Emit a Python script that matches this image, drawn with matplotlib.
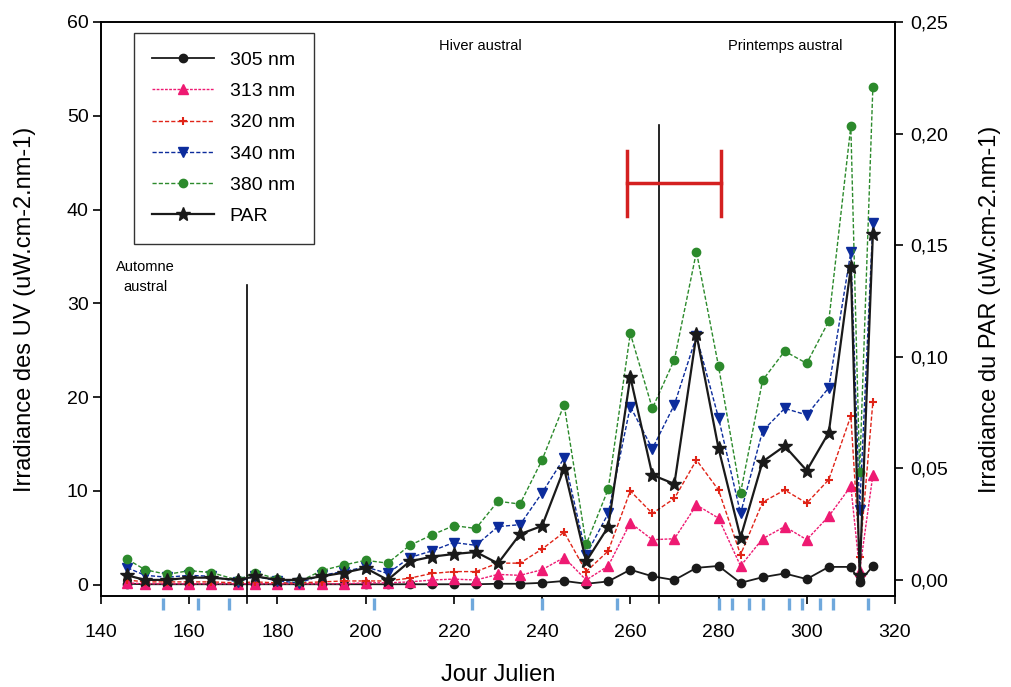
import matplotlib
matplotlib.use("Agg")
import matplotlib.pyplot as plt
from matplotlib.ticker import FuncFormatter, MultipleLocator

# ---------------- data ----------------
days = [146, 150, 155, 160, 165, 171, 175, 180, 185, 190, 195, 200, 205, 210, 215,
        220, 225, 230, 235, 240, 245, 250, 255, 260, 265, 270, 275, 280, 285, 290,
        295, 300, 305, 310, 312, 315]

uv305 = [0.1, 0.05, 0.05, 0.05, 0.05, 0.05, 0.05, 0.05, 0.05, 0.05, 0.05, 0.05, 0.05, 0.05, 0.05,
         0.05, 0.05, 0.1, 0.1, 0.2, 0.4, 0.1, 0.35, 1.6, 0.9, 0.5, 1.8, 2.0, 0.2, 0.8,
         1.2, 0.6, 1.9, 1.9, 0.3, 2.0]
uv313 = [0.2, 0.1, 0.1, 0.1, 0.1, 0.1, 0.1, 0.1, 0.1, 0.1, 0.1, 0.2, 0.2, 0.3, 0.5,
         0.6, 0.5, 1.1, 1.0, 1.6, 2.9, 0.5, 2.0, 6.6, 4.8, 4.9, 8.5, 7.1, 2.0, 4.9,
         6.2, 4.8, 7.3, 10.5, 1.5, 11.7]
uv320 = [0.5, 0.3, 0.3, 0.3, 0.3, 0.2, 0.3, 0.2, 0.2, 0.3, 0.4, 0.4, 0.4, 0.7, 1.2,
         1.4, 1.4, 2.3, 2.3, 3.8, 5.6, 1.4, 3.6, 10.0, 7.6, 9.2, 13.3, 10.1, 3.2, 8.8,
         10.1, 8.7, 11.2, 18.0, 3.0, 19.5]
uv340 = [1.8, 1.0, 0.8, 1.0, 0.9, 0.3, 0.9, 0.4, 0.2, 1.0, 1.4, 1.9, 1.2, 2.9, 3.6,
         4.5, 4.2, 6.2, 6.4, 9.8, 13.5, 3.2, 7.6, 19.0, 14.5, 19.2, 26.5, 17.8, 7.6, 16.4,
         18.8, 18.1, 21.0, 35.5, 8.0, 38.6]
uv380 = [2.7, 1.6, 1.1, 1.5, 1.3, 0.5, 1.3, 0.6, 0.35, 1.5, 2.1, 2.6, 2.3, 4.2, 5.3,
         6.3, 6.0, 8.9, 8.6, 13.3, 19.2, 4.3, 10.2, 26.8, 18.8, 24.0, 35.5, 23.3, 9.8, 21.8,
         24.9, 23.6, 28.1, 48.9, 12.0, 53.1]
par = [0.002, 0.000, 0.000, 0.001, 0.001, 0.000, 0.0016, 0.000, 0.000, 0.0016, 0.0032, 0.0053, 0.000, 0.0083, 0.0104,
       0.0116, 0.0125, 0.0074, 0.0205, 0.0242, 0.0499, 0.0083, 0.0238, 0.091, 0.047, 0.043, 0.110, 0.059, 0.019, 0.053,
       0.060, 0.049, 0.066, 0.140, 0.002, 0.155]

sampling_days = [154, 162, 169, 202, 224, 240, 257, 280, 283, 287, 290, 296, 299, 303, 306, 314]
season_limits = [173, 266.6]
period_bar = [259.3, 280.5]

FONT = ['Liberation Sans Narrow', 'Liberation Sans', 'DejaVu Sans']
plt.rcParams['font.family'] = FONT

fig = plt.figure(figsize=(10.11, 6.87), dpi=100)
ax = fig.add_axes([0.0999, 0.1325, 0.7853, 0.8355])
ax2 = ax.twinx()

c_black = '#1a1a1a'
c_pink = '#ee1a72'
c_red = '#e02418'
c_blue = '#0c2c9c'
c_green = '#2c8a2c'

ax.plot(days, uv305, color=c_black, lw=1.3, ls='-', marker='o', ms=6, label='305 nm')
ax.plot(days, uv313, color=c_pink, lw=1.0, ls=(0, (2, 1)), marker='^', ms=7, label='313 nm')
ax.plot(days, uv320, color=c_red, lw=1.0, ls=(0, (3, 1.5)), marker='+', ms=6, mew=1.5, label='320 nm')
ax.plot(days, uv340, color=c_blue, lw=1.0, ls=(0, (3, 1.5)), marker='v', ms=7, label='340 nm')
ax.plot(days, uv380, color=c_green, lw=1.0, ls=(0, (3, 1.5)), marker='o', ms=6, label='380 nm')
hpar, = ax2.plot(days, par, color=c_black, lw=1.6, ls='-', marker='*', ms=10, label='PAR')

# limits
ax.set_xlim(140, 320)
ax.set_ylim(-1.2, 60)
ax2.set_ylim(-0.0072, 0.25)

# season separators
for xv, ytop in zip(season_limits, [32, 49]):
    ax.plot([xv, xv], [-1.9, ytop], color='black', lw=1.2, clip_on=False)

# red period bar
ax.plot(period_bar, [42.8, 42.8], color='#d42020', lw=2.5)
for xv in period_bar:
    ax.plot([xv, xv], [39.3, 46.2], color='#d42020', lw=2.5)

# sampling ticks below axis
for d in sampling_days:
    ax.plot([d, d], [-1.4, -2.7], color='#6fa8dc', lw=2.4, clip_on=False, solid_capstyle='butt')

# ticks
ax.xaxis.set_major_locator(MultipleLocator(20))
ax.yaxis.set_major_locator(MultipleLocator(10))
ax2.yaxis.set_major_locator(MultipleLocator(0.05))
ax2.yaxis.set_major_formatter(FuncFormatter(lambda v, p: f"{v:.2f}".replace('.', ',')))
ax.tick_params(axis='x', direction='out', length=6, width=1.2, labelsize=14, pad=14)
ax.tick_params(axis='y', direction='out', length=6, width=1.2, labelsize=14, pad=3)
ax2.tick_params(axis='y', direction='out', length=6, width=1.2, labelsize=14, pad=5)
for sp in list(ax.spines.values()) + list(ax2.spines.values()):
    sp.set_linewidth(1.2)

ax.set_xlabel('Jour Julien', fontsize=17, labelpad=17)
ax.set_ylabel('Irradiance des UV (uW.cm-2.nm-1)', fontsize=17, labelpad=22)
ax2.set_ylabel('Irradiance du PAR (uW.cm-2.nm-1)', fontsize=17, rotation=90, labelpad=22)

# season texts
ax.text(150, 34.6, 'Automne\naustral', fontsize=10.5, ha='center', va='top', linespacing=1.5)
ax.text(225.9, 57.4, 'Hiver austral', fontsize=10.5, ha='center', va='center')
ax.text(295.2, 57.4, 'Printemps austral', fontsize=10.5, ha='center', va='center')

# legend
h1, l1 = ax.get_legend_handles_labels()
leg = ax.legend(h1 + [hpar], l1 + ['PAR'], loc='upper left', bbox_to_anchor=(0.041, 0.981),
                fontsize=14, frameon=True, fancybox=False, edgecolor='black',
                handlelength=3.2, borderpad=0.95, labelspacing=0.7, handletextpad=0.8,
                borderaxespad=0)
leg.get_frame().set_linewidth(1.0)

fig.savefig('out.png', dpi=100)
